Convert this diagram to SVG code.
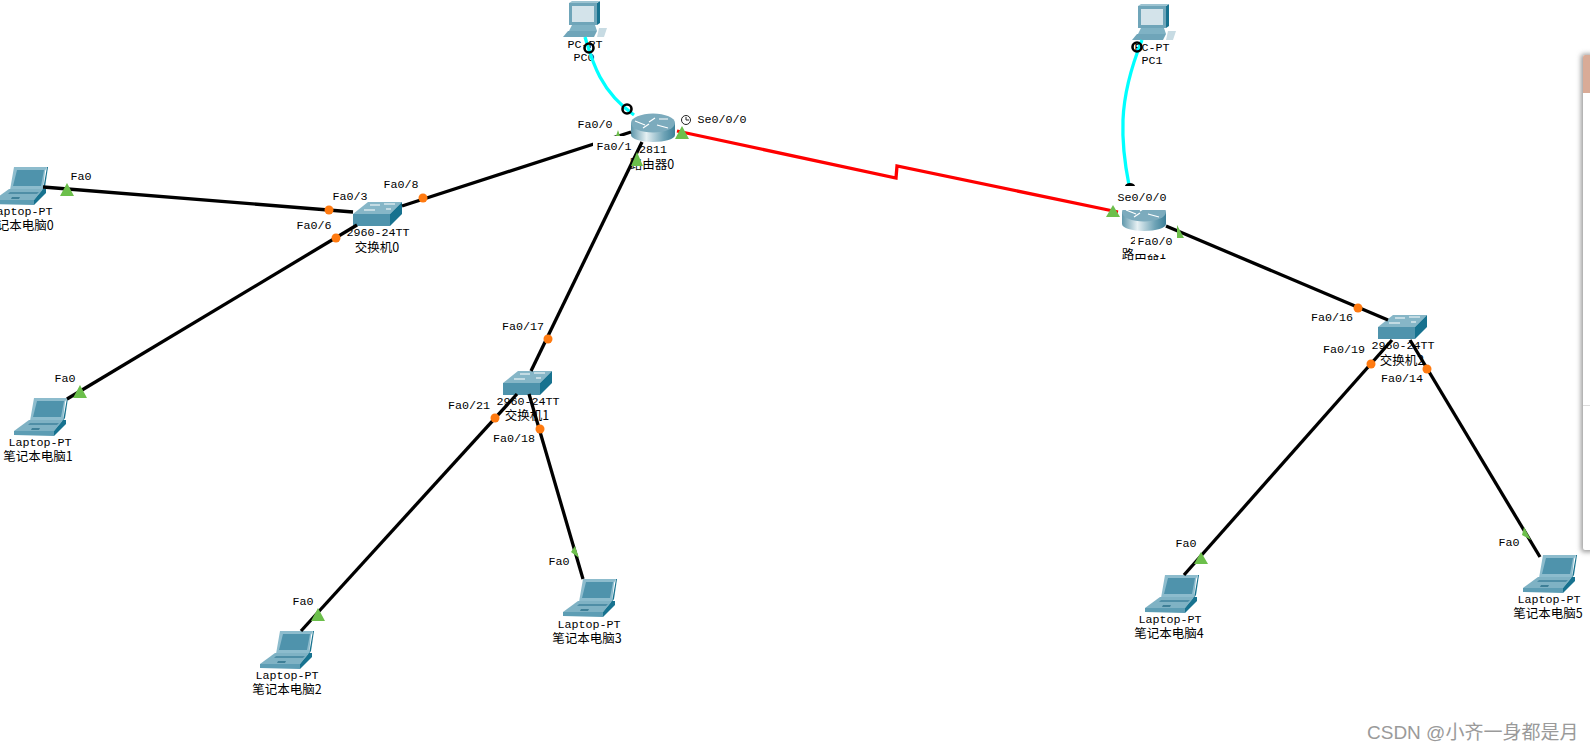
<svg xmlns="http://www.w3.org/2000/svg" xmlns:xlink="http://www.w3.org/1999/xlink" width="1590" height="753" viewBox="0 0 1590 753">
<style>
.t{font-family:"Liberation Mono",monospace;font-size:11.7px;fill:#000;text-anchor:middle;dominant-baseline:central}
.c{font-family:"Noto Sans CJK SC",sans-serif;font-size:12.5px;fill:#000;text-anchor:middle;dominant-baseline:central}
.l{fill:none;stroke:#000;stroke-width:3.3}
.cy{fill:none;stroke:#00ffff;stroke-width:3.3}
.r{fill:none;stroke:#ff0000;stroke-width:3.3}
.o{fill:#ff7a10}
.g{fill:#6cbf4b}
.ring{fill:none;stroke:#000;stroke-width:2.6}
.m{fill:#fff}
.w{fill:none;stroke:#fff;stroke-width:1.2}
</style>
<defs>
<linearGradient id="rg" x1="0" x2="1" y1="0" y2="0">
<stop offset="0" stop-color="#5f97ab"/><stop offset="0.35" stop-color="#e6f0f3"/><stop offset="0.75" stop-color="#6ea3b6"/><stop offset="1" stop-color="#3d7f98"/>
</linearGradient>
<filter id="sh" x="-100%" y="-5%" width="300%" height="110%"><feGaussianBlur stdDeviation="2.5"/></filter>
<g id="laptop">
<polygon points="21,0 54,0 52,4 50,23 17,23" fill="#8dbccd"/>
<polygon points="54,0 55,0 52,20 50,23" fill="#17728f"/>
<polygon points="24,3 51,3 48,19 20,19" fill="#4f93ac"/>
<polygon points="16,22 50,22 41,33 1,33" fill="#7fb2c4"/>
<polygon points="17,25 46,25 44,27 15,27" fill="#4f8ea6"/>
<polygon points="19,30 27,30 26,32 18,32" fill="#3e7f97"/>
<polygon points="1,33 41,33 41,38 1,37" fill="#5d9db4"/>
<polygon points="41,33 50,22 53,22 53,26 41,38" fill="#17728f"/>
</g>
<g id="switch">
<polygon points="0,12 15,0 49,0 37,12" fill="#86b6c7"/>
<rect x="0" y="12" width="37" height="12" fill="#4f93ac"/>
<polygon points="37,12 49,0 49,12 37,24" fill="#17728f"/>
<path class="w" d="M17,3H27M31,2H42M11,8H22M33,7H38"/>
</g>
<g id="router">
<path d="M0,10V22C0,26 10,29 22,29C34,29 44,26 44,22V10Z" fill="url(#rg)"/>
<ellipse cx="22" cy="10" rx="22" ry="9.5" fill="#7cabbd"/>
<path class="w" stroke-width="1.5" d="M4,8L14,12M12,15L18,11M24,5L18,9M28,6H37M26,12L37,15"/>
</g>
<g id="pc">
<polygon points="6,2 34,2 34,24 6,24" fill="#6fa5b9"/>
<polygon points="34,2 37,0 37,22 34,24" fill="#17728f"/>
<polygon points="6,2 9,0 37,0 34,2" fill="#9cc3d1"/>
<rect x="9" y="5" width="22" height="16" fill="#d3e3ea"/>
<polygon points="9,24 32,24 34,30 6,30" fill="#7fb2c4"/>
<polygon points="5,30 34,30 31,36 0,36" fill="#6fa5b9"/>
<polygon points="36,27 44,27 41,36 34,36" fill="#c7dbe3"/>
</g>
</defs>
<rect width="1590" height="753" fill="#fff"/>

<g id="panel">
<rect x="1581" y="54" width="14" height="498" rx="3" fill="#999" filter="url(#sh)"/>
<rect x="1583" y="55" width="9" height="495" rx="2" fill="#fff"/>
<path d="M1583,93V57a2,2 0 0 1 2-2H1590V93Z" fill="#d9ab97"/>
<path d="M1583,405.500H1590" stroke="#ddd"/>
</g>

<g id="PC0"><use xlink:href="#pc" href="#pc" x="563" y="1"/><text class="t" x="585" y="45">PC-PT</text><text class="t" x="584" y="58">PC0</text></g>
<g id="PC1"><use xlink:href="#pc" href="#pc" x="1132" y="4"/><text class="t" x="1152" y="48">PC-PT</text><text class="t" x="1152" y="61">PC1</text></g>
<g id="router0"><use xlink:href="#router" href="#router" x="631" y="113"/><text class="t" x="653" y="150">2811</text><text class="c" x="652" y="163">路由器0</text></g>
<g id="router1"><use xlink:href="#router" href="#router" x="1122" y="202"/><text class="t" x="1144" y="241">2811</text><text class="c" x="1144" y="253">路由器1</text></g>
<g id="switch0"><use xlink:href="#switch" href="#switch" x="353" y="202"/><text class="t" x="378" y="233">2960-24TT</text><text class="c" x="377" y="246">交换机0</text></g>
<g id="switch1"><use xlink:href="#switch" href="#switch" x="503" y="371"/><text class="t" x="528" y="402">2960-24TT</text><text class="c" x="527" y="414">交换机1</text></g>
<g id="switch2"><use xlink:href="#switch" href="#switch" x="1378" y="315"/><text class="t" x="1403" y="346">2960-24TT</text><text class="c" x="1402" y="359">交换机2</text></g>
<g id="laptop0"><use xlink:href="#laptop" href="#laptop" x="-7" y="167"/><text class="t" x="21" y="212">Laptop-PT</text><text class="c" x="19" y="224">笔记本电脑0</text></g>
<g id="laptop1"><use xlink:href="#laptop" href="#laptop" x="13" y="398"/><text class="t" x="40" y="443">Laptop-PT</text><text class="c" x="38" y="455">笔记本电脑1</text></g>
<g id="laptop2"><use xlink:href="#laptop" href="#laptop" x="259" y="631"/><text class="t" x="287" y="676">Laptop-PT</text><text class="c" x="287" y="688">笔记本电脑2</text></g>
<g id="laptop3"><use xlink:href="#laptop" href="#laptop" x="562" y="579"/><text class="t" x="589" y="625">Laptop-PT</text><text class="c" x="587" y="637">笔记本电脑3</text></g>
<g id="laptop4"><use xlink:href="#laptop" href="#laptop" x="1144" y="575"/><text class="t" x="1170" y="620">Laptop-PT</text><text class="c" x="1169" y="632">笔记本电脑4</text></g>
<g id="laptop5"><use xlink:href="#laptop" href="#laptop" x="1522" y="555"/><text class="t" x="1549" y="600">Laptop-PT</text><text class="c" x="1548" y="612">笔记本电脑5</text></g>

<g id="connectors">
<path class="cy" d="M585,37C589,50 592,62 600,77C608,92 620,105 634,115"/>
<path class="cy" d="M1142,40C1130,70 1124,95 1123,120C1122,145 1125,165 1129,185"/>
<path class="r" d="M677,131L896,178L897,166L1118,212"/>
<path class="l" d="M43,187L353,212"/>
<path class="l" d="M67,399L357,225"/>
<path class="l" d="M402,206L631,132"/>
<path class="l" d="M531,371L642,142"/>
<path class="l" d="M517,394L301,631"/>
<path class="l" d="M529,394L583,579"/>
<path class="l" d="M1166,226L1388,320"/>
<path class="l" d="M1392,340L1184,575"/>
<path class="l" d="M1410,340L1540,557"/>
<path d="M1125,186a5,3 0 0 1 10,0Z" fill="#000"/>
</g>

<g id="labels">
<rect class="m" x="593" y="136" width="38" height="18"/>
<rect class="m" x="1115" y="189" width="55" height="21"/>
<rect class="m" x="1135" y="232" width="40" height="22"/>
<text class="t" x="595" y="125">Fa0/0</text>
<text class="t" x="614" y="147">Fa0/1</text>
<text class="t" x="722" y="120">Se0/0/0</text>
<text class="t" x="1142" y="198">Se0/0/0</text>
<text class="t" x="1155" y="242">Fa0/0</text>
<text class="t" x="350" y="197">Fa0/3</text>
<text class="t" x="401" y="185">Fa0/8</text>
<text class="t" x="314" y="226">Fa0/6</text>
<text class="t" x="523" y="327">Fa0/17</text>
<text class="t" x="469" y="406">Fa0/21</text>
<text class="t" x="514" y="439">Fa0/18</text>
<text class="t" x="1332" y="318">Fa0/16</text>
<text class="t" x="1344" y="350">Fa0/19</text>
<text class="t" x="1402" y="379">Fa0/14</text>
<text class="t" x="81" y="177">Fa0</text>
<text class="t" x="65" y="379">Fa0</text>
<text class="t" x="303" y="602">Fa0</text>
<text class="t" x="559" y="562">Fa0</text>
<text class="t" x="1186" y="544">Fa0</text>
<text class="t" x="1509" y="543">Fa0</text>
</g>

<g id="clock" fill="none" stroke="#222"><circle cx="686" cy="120" r="4.5"/><path d="M686,117V120H689"/></g>

<g id="link-lights">
<circle class="o" cx="329" cy="210" r="4.5"/>
<circle class="o" cx="336" cy="238" r="4.5"/>
<circle class="o" cx="423" cy="198" r="4.5"/>
<circle class="o" cx="548" cy="339" r="4.5"/>
<circle class="o" cx="495" cy="418" r="4.5"/>
<circle class="o" cx="540" cy="429" r="4.5"/>
<circle class="o" cx="1358" cy="308" r="4.5"/>
<circle class="o" cx="1371" cy="364" r="4.5"/>
<circle class="o" cx="1427" cy="369" r="4.5"/>
<polygon class="g" points="67,183 74,196 60,196"/>
<polygon class="g" points="80,385 87,398 73,398"/>
<polygon class="g" points="318,608 325,621 311,621"/>
<polygon class="g" points="575,546 579,558 571,552"/>
<polygon class="g" points="1201,552 1208,564 1194,564"/>
<polygon class="g" points="1524,527 1531,540 1522,535"/>
<polygon class="g" points="682,126 689,139 675,139"/>
<polygon class="g" points="1113,205 1120,217 1106,217"/>
<polygon class="g" points="1177,225 1184,238 1177,238"/>
<polygon class="g" points="618,130 620,136 616,136"/>
<polygon class="g" points="637,152 643,166 631,166"/>
<circle class="ring" cx="589" cy="48" r="4.5"/>
<circle class="ring" cx="627" cy="109" r="4.5"/>
<circle class="ring" cx="1137" cy="47" r="4.5"/>
</g>

<text id="watermark" x="1367" y="739" font-family="'Liberation Sans','Noto Sans CJK SC',sans-serif" font-size="19px" fill="#9a9a9a">CSDN @小齐一身都是月</text>
</svg>
